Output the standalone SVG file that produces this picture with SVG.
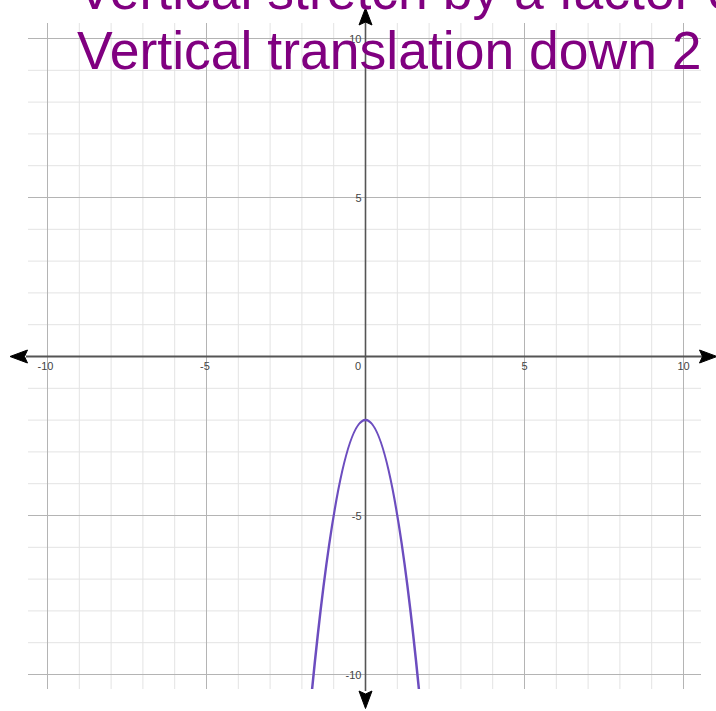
<svg xmlns="http://www.w3.org/2000/svg" width="716" height="711" viewBox="0 0 716 711">
<style>
.minor{stroke:#e3e3e3;stroke-width:1;fill:none}
.major{stroke:#b4b4b4;stroke-width:1;fill:none}
.axis{stroke:#555;fill:none}
.arrow{fill:#000;stroke:#000;stroke-width:1;stroke-linejoin:round}
.tick{font-family:"Liberation Sans",Arial,sans-serif;font-size:11px;fill:#444}
.title{font-family:"Liberation Sans",Arial,sans-serif;font-size:53.5px;fill:#800080}
.curve{stroke:#6c4dbf;stroke-width:2.5;fill:none}
</style>
<rect width="716" height="711" fill="#fff"/>
<g id="grid">
<g class="minor">
<line x1="79.3" y1="23" x2="79.3" y2="689"/>
<line x1="111.1" y1="23" x2="111.1" y2="689"/>
<line x1="142.9" y1="23" x2="142.9" y2="689"/>
<line x1="174.7" y1="23" x2="174.7" y2="689"/>
<line x1="238.3" y1="23" x2="238.3" y2="689"/>
<line x1="270.1" y1="23" x2="270.1" y2="689"/>
<line x1="301.9" y1="23" x2="301.9" y2="689"/>
<line x1="333.7" y1="23" x2="333.7" y2="689"/>
<line x1="397.3" y1="23" x2="397.3" y2="689"/>
<line x1="429.1" y1="23" x2="429.1" y2="689"/>
<line x1="460.9" y1="23" x2="460.9" y2="689"/>
<line x1="492.7" y1="23" x2="492.7" y2="689"/>
<line x1="556.3" y1="23" x2="556.3" y2="689"/>
<line x1="588.1" y1="23" x2="588.1" y2="689"/>
<line x1="619.9" y1="23" x2="619.9" y2="689"/>
<line x1="651.7" y1="23" x2="651.7" y2="689"/>
<line x1="28" y1="70.3" x2="701" y2="70.3"/>
<line x1="28" y1="102.1" x2="701" y2="102.1"/>
<line x1="28" y1="133.9" x2="701" y2="133.9"/>
<line x1="28" y1="165.7" x2="701" y2="165.7"/>
<line x1="28" y1="229.3" x2="701" y2="229.3"/>
<line x1="28" y1="261.1" x2="701" y2="261.1"/>
<line x1="28" y1="292.9" x2="701" y2="292.9"/>
<line x1="28" y1="324.7" x2="701" y2="324.7"/>
<line x1="28" y1="388.3" x2="701" y2="388.3"/>
<line x1="28" y1="420.1" x2="701" y2="420.1"/>
<line x1="28" y1="451.9" x2="701" y2="451.9"/>
<line x1="28" y1="483.7" x2="701" y2="483.7"/>
<line x1="28" y1="547.3" x2="701" y2="547.3"/>
<line x1="28" y1="579.1" x2="701" y2="579.1"/>
<line x1="28" y1="610.9" x2="701" y2="610.9"/>
<line x1="28" y1="642.7" x2="701" y2="642.7"/>
</g>
<g class="major">
<line x1="47.5" y1="23" x2="47.5" y2="689"/>
<line x1="206.5" y1="23" x2="206.5" y2="689"/>
<line x1="524.5" y1="23" x2="524.5" y2="689"/>
<line x1="683.5" y1="23" x2="683.5" y2="689"/>
<line x1="28" y1="38.5" x2="701" y2="38.5"/>
<line x1="28" y1="197.5" x2="701" y2="197.5"/>
<line x1="28" y1="515.5" x2="701" y2="515.5"/>
<line x1="28" y1="674.5" x2="701" y2="674.5"/>
</g>
</g>
<g id="axes">
<line class="axis" x1="26" y1="356.5" x2="703" y2="356.5" stroke-width="2"/>
<line class="axis" x1="365.5" y1="21" x2="365.5" y2="691" stroke="#333" stroke-width="1.6"/>
<path class="arrow" d="M10,356.5 L27.5,350 L24.5,356.5 L27.5,363 Z"/>
<path class="arrow" d="M717,356.5 L699.5,350 L702.5,356.5 L699.5,363 Z"/>
<path class="arrow" d="M365.5,8 L359,25 L365.5,22 L372,25 Z"/>
<path class="arrow" d="M365.5,708.5 L359,691 L365.5,694 L372,691 Z"/>
</g>
<g id="ticks" class="tick">
<text x="45.5" y="370" text-anchor="middle">-10</text>
<text x="205" y="370" text-anchor="middle">-5</text>
<text x="358" y="370" text-anchor="middle">0</text>
<text x="524.5" y="370" text-anchor="middle">5</text>
<text x="683.5" y="370" text-anchor="middle">10</text>
<text x="361.5" y="42.5" text-anchor="end">10</text>
<text x="361.5" y="201.5" text-anchor="end">5</text>
<text x="361.5" y="519.5" text-anchor="end">-5</text>
<text x="361.5" y="678.5" text-anchor="end">-10</text>
</g>
<g id="curve">
<path class="curve" d="M312.11,689 Q365.5,151.2 418.89,689"/>
</g>
<g id="title" class="title">
<text x="77" y="9">Vertical stretch by a factor of 3</text>
<text x="77" y="69">Vertical translation down 2</text>
</g>
</svg>
